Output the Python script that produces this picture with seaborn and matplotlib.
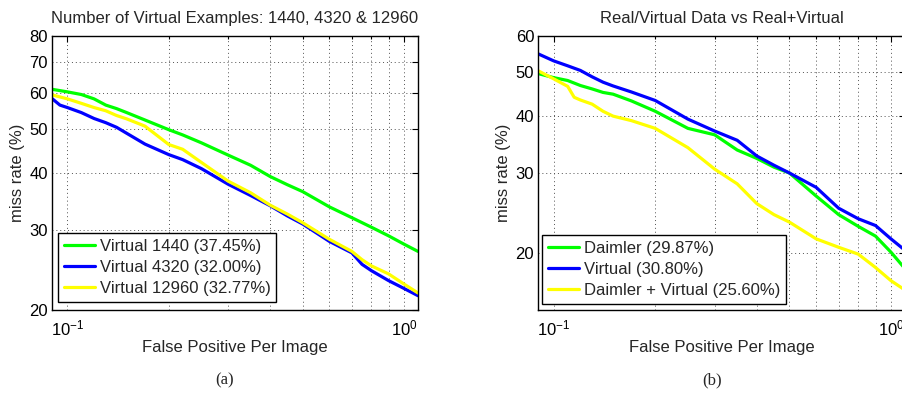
import numpy as np
import pandas as pd
import matplotlib
matplotlib.use("Agg")
import matplotlib.pyplot as plt
import seaborn as sns
from matplotlib.ticker import FixedLocator, NullLocator, NullFormatter

sns.set_style("white")
plt.rcParams['font.family'] = ['Liberation Sans', 'DejaVu Sans']

# ---------------- data: panel (a) ----------------
a_title = "Number of Virtual Examples: 1440, 4320 & 12960"
a_labels = ["Virtual 1440 (37.45%)", "Virtual 4320 (32.00%)", "Virtual 12960 (32.77%)"]

v1440_fppi = [0.09, 0.1, 0.11, 0.12, 0.13, 0.14, 0.15, 0.17, 0.2, 0.22, 0.25, 0.3, 0.35, 0.4, 0.45, 0.5, 0.6, 0.7, 0.8, 0.9, 1.0, 1.1]
v1440_miss = [61.1, 60.3, 59.5, 58.2, 56.4, 55.4, 54.3, 52.3, 49.8, 48.5, 46.6, 43.8, 41.6, 39.3, 37.7, 36.4, 33.7, 31.9, 30.4, 29.1, 27.9, 26.9]

v4320_fppi = [0.09, 0.095, 0.1, 0.11, 0.12, 0.13, 0.14, 0.15, 0.17, 0.2, 0.22, 0.25, 0.3, 0.35, 0.4, 0.45, 0.5, 0.6, 0.7, 0.75, 0.8, 0.9, 1.0, 1.1]
v4320_miss = [58.3, 56.4, 55.7, 54.3, 52.7, 51.6, 50.4, 48.9, 46.3, 43.9, 42.8, 40.9, 37.8, 35.7, 33.9, 32.2, 30.9, 28.3, 26.7, 25.2, 24.4, 23.2, 22.3, 21.5]

v12960_fppi = [0.09, 0.1, 0.11, 0.12, 0.13, 0.14, 0.15, 0.17, 0.2, 0.22, 0.25, 0.3, 0.35, 0.4, 0.45, 0.5, 0.6, 0.7, 0.75, 0.8, 0.9, 1.0, 1.1]
v12960_miss = [59.4, 58.2, 56.9, 55.7, 54.8, 53.5, 52.6, 50.7, 46.2, 45.1, 42.2, 38.4, 36.2, 34.0, 32.5, 31.1, 28.6, 26.9, 25.8, 25.0, 24.0, 22.8, 21.8]

# ---------------- data: panel (b) ----------------
b_title = "Real/Virtual Data vs Real+Virtual"
b_labels = ["Daimler (29.87%)", "Virtual (30.80%)", "Daimler + Virtual (25.60%)"]

daimler_fppi = [0.09, 0.1, 0.11, 0.12, 0.13, 0.14, 0.15, 0.17, 0.2, 0.25, 0.3, 0.35, 0.4, 0.45, 0.5, 0.6, 0.7, 0.8, 0.9, 1.0, 1.1]
daimler_miss = [49.6, 48.6, 47.9, 46.7, 45.9, 45.1, 44.7, 43.2, 41.0, 37.6, 36.4, 33.7, 32.3, 30.9, 30.0, 26.7, 24.3, 22.9, 21.8, 20.1, 18.5]

virtual_fppi = [0.09, 0.1, 0.11, 0.12, 0.13, 0.14, 0.15, 0.17, 0.2, 0.25, 0.3, 0.35, 0.4, 0.45, 0.5, 0.6, 0.7, 0.8, 0.9, 1.0, 1.1]
virtual_miss = [54.8, 52.9, 51.6, 50.4, 48.8, 47.5, 46.6, 45.2, 43.3, 39.4, 37.1, 35.4, 32.7, 31.2, 30.0, 27.9, 25.1, 23.8, 23.0, 21.5, 20.3]

combo_fppi = [0.09, 0.1, 0.11, 0.115, 0.12, 0.13, 0.14, 0.15, 0.17, 0.2, 0.25, 0.3, 0.35, 0.4, 0.45, 0.5, 0.6, 0.7, 0.8, 0.9, 1.0, 1.1]
combo_miss = [50.3, 48.3, 46.5, 44.0, 43.4, 42.5, 41.0, 40.0, 39.1, 37.6, 34.1, 30.6, 28.4, 25.7, 24.3, 23.4, 21.5, 20.6, 19.9, 18.6, 17.4, 16.6]

colors = ["#00ff00", "#0000ff", "#ffff00"]


def frame(labels, xs, ys):
    parts = []
    for lab, x, y in zip(labels, xs, ys):
        parts.append(pd.DataFrame({"fppi": x, "miss": y, "method": lab}))
    return pd.concat(parts, ignore_index=True)


df_a = frame(a_labels, [v1440_fppi, v4320_fppi, v12960_fppi], [v1440_miss, v4320_miss, v12960_miss])
df_b = frame(b_labels, [daimler_fppi, virtual_fppi, combo_fppi], [daimler_miss, virtual_miss, combo_miss])

fig = plt.figure(figsize=(9.03, 3.97), dpi=100)
ax1 = fig.add_axes([0.05759, 0.21914, 0.40532, 0.69018])
ax2 = fig.add_axes([0.59612, 0.21914, 0.40598, 0.69018])

grid_kw = dict(color="#505050", linestyle=(0, (1, 3)), linewidth=0.7)


def style(ax, df, labels, title, yticks, ylim, leg_anchor):
    sns.lineplot(data=df, x="fppi", y="miss", hue="method", hue_order=labels,
                 palette=colors, estimator=None, sort=False, linewidth=2.3,
                 ax=ax, legend=False)
    ax.set_xscale("log")
    ax.set_yscale("log")
    ax.set_xlim(0.09, 1.1)
    ax.set_ylim(*ylim)
    ax.xaxis.set_major_locator(FixedLocator([0.1, 1.0]))
    ax.set_xticklabels([r"$\mathregular{10^{-1}}$", r"$\mathregular{10^{0}}$"])
    ax.xaxis.set_minor_locator(FixedLocator([0.2, 0.3, 0.4, 0.5, 0.6, 0.7, 0.8, 0.9]))
    ax.xaxis.set_minor_formatter(NullFormatter())
    ax.yaxis.set_major_locator(FixedLocator(yticks))
    ax.set_yticklabels([str(v) for v in yticks])
    ax.yaxis.set_minor_locator(NullLocator())
    ax.grid(True, which="both", axis="x", **grid_kw)
    ax.grid(True, which="major", axis="y", **grid_kw)
    ax.set_axisbelow(True)
    ax.tick_params(which="both", direction="in", top=True, right=True,
                   colors="black", width=0.8)
    ax.tick_params(which="major", length=4)
    ax.tick_params(which="minor", length=2.5)
    ax.tick_params(axis="y", labelsize=12, pad=3)
    ax.tick_params(axis="x", labelsize=12, pad=6)
    for s in ax.spines.values():
        s.set_color("black")
        s.set_linewidth(1.0)
    ax.set_xlabel("False Positive Per Image", fontsize=12, labelpad=1.5)
    ax.set_ylabel("miss rate (%)", fontsize=12, labelpad=3)
    ax.set_title(title, fontsize=12, pad=9)
    leg = ax.legend(ax.lines[:3], labels, loc="lower left", bbox_to_anchor=leg_anchor,
                    borderaxespad=0, fontsize=12, frameon=True, fancybox=False,
                    handlelength=1.9, handletextpad=0.25, labelspacing=0.37,
                    borderpad=0.35)
    leg.get_frame().set_edgecolor("black")
    leg.get_frame().set_linewidth(1.0)
    leg.get_frame().set_alpha(1)


style(ax1, df_a, a_labels, a_title, [20, 30, 40, 50, 60, 70, 80], (20, 80), (0.016, 0.029))
style(ax2, df_b, b_labels, b_title, [20, 30, 40, 50, 60], (15, 60), (0.010, 0.022))

fig.text(225 / 903, 1 - 380 / 397, "(a)", family=["Liberation Serif"], fontsize=12,
         ha="center", va="center")
fig.text(712 / 903, 1 - 380 / 397, "(b)", family=["Liberation Serif"], fontsize=12,
         ha="center", va="center")

fig.savefig("out.png", dpi=100)
